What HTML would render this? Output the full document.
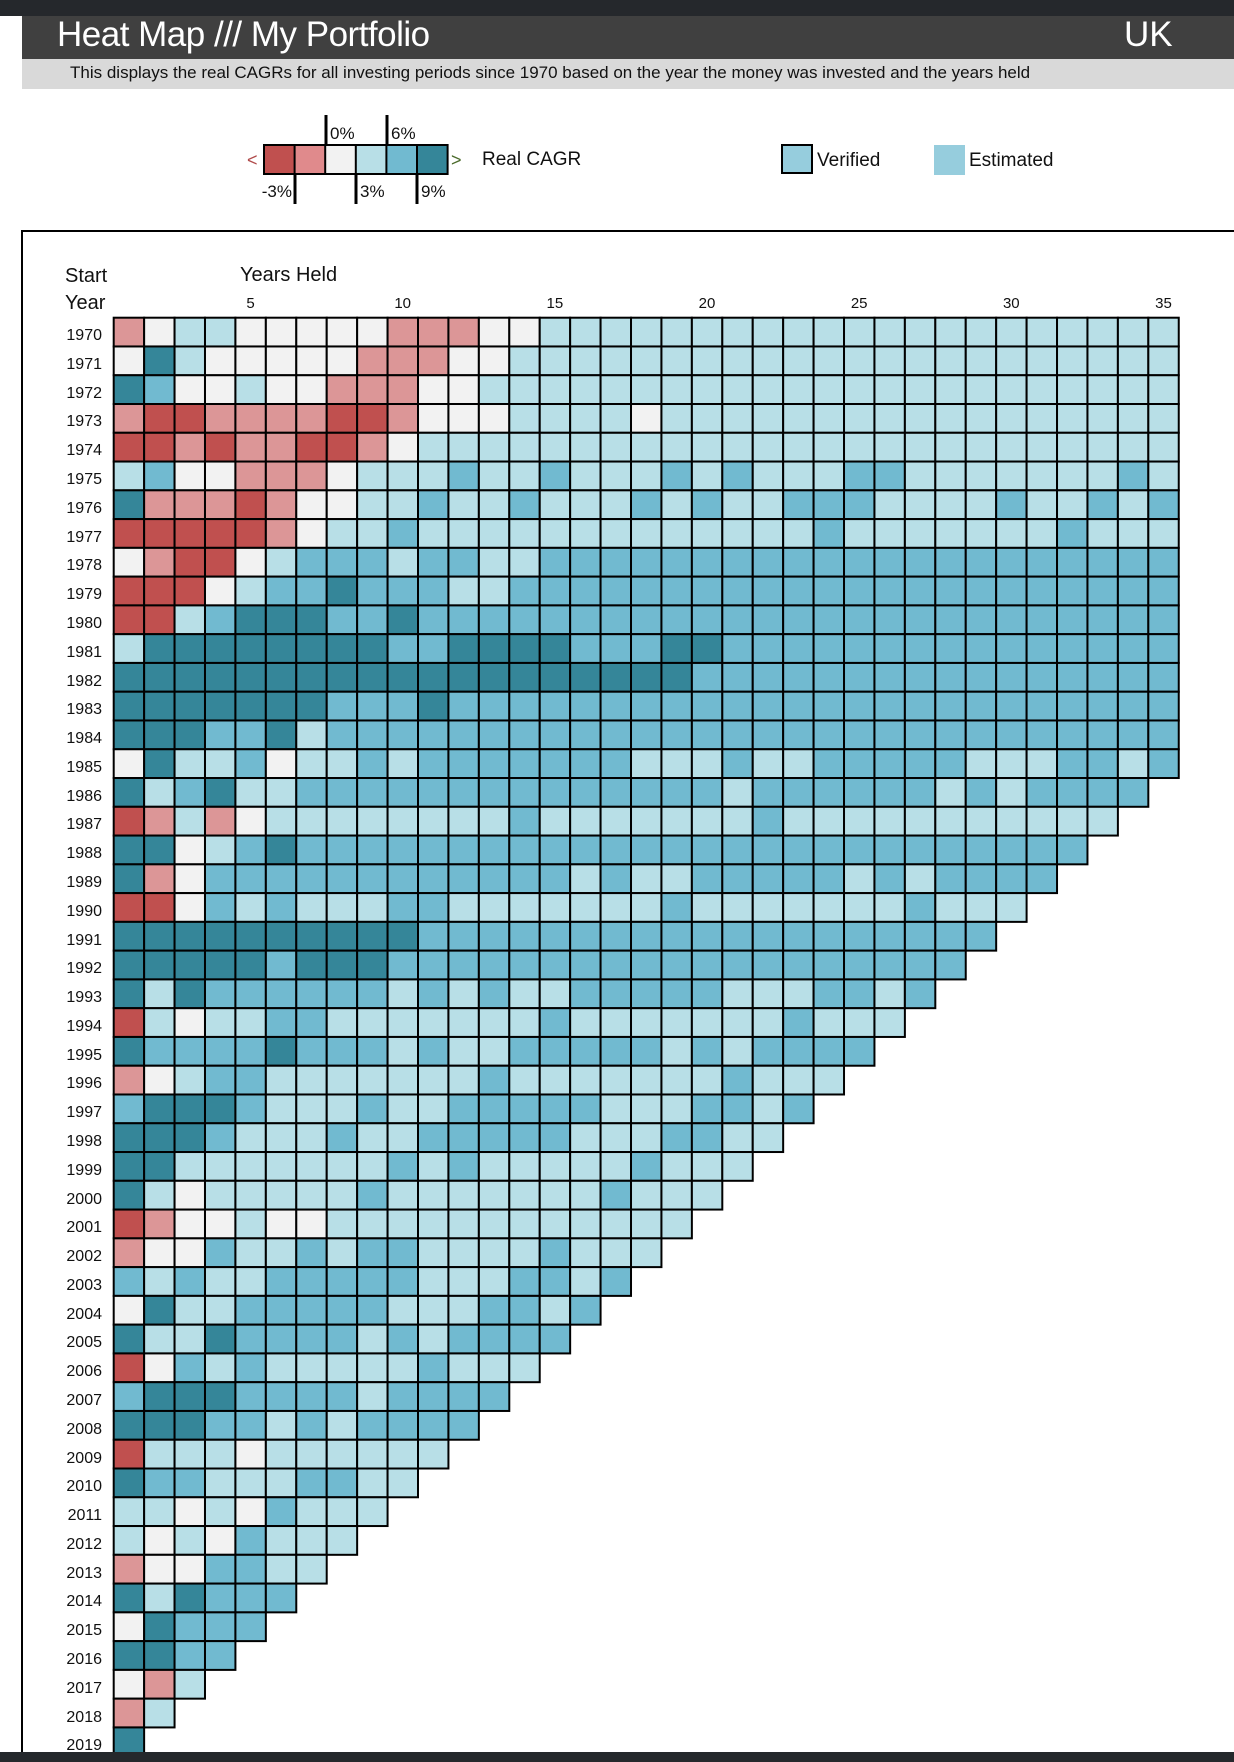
<!DOCTYPE html>
<html><head><meta charset="utf-8"><style>
html,body{margin:0;padding:0;background:#fff;}
body{width:1234px;height:1762px;position:relative;overflow:hidden;font-family:"Liberation Sans",Arial,sans-serif;}
.abs{position:absolute;}
</style></head><body>
<div class="abs" style="left:0;top:0;width:1234px;height:16px;background:#25282c"></div>
<div class="abs" style="left:22px;top:16px;width:1212px;height:43px;background:#404040"></div>
<div class="abs" style="left:57px;top:13px;font-size:35px;color:#fff;letter-spacing:-0.5px;line-height:44px">Heat Map /// My Portfolio</div>
<div class="abs" style="left:1124px;top:13px;font-size:35px;color:#fff;line-height:44px">UK</div>
<div class="abs" style="left:22px;top:59px;width:1212px;height:30px;background:#d9d9d9"></div>
<div class="abs" style="left:70px;top:63px;font-size:17px;color:#111;line-height:20px">This displays the real CAGRs for all investing periods since 1970 based on the year the money was invested and the years held</div>

<svg class="abs" style="left:0;top:0" width="1234" height="1762" xmlns="http://www.w3.org/2000/svg" font-family="Liberation Sans, Arial, sans-serif">
<rect x="264" y="145" width="30.6" height="29" fill="#c0504f"/>
<rect x="294.6" y="145" width="30.6" height="29" fill="#e08a8c"/>
<rect x="325.2" y="145" width="30.6" height="29" fill="#f2f2f2"/>
<rect x="355.8" y="145" width="30.6" height="29" fill="#b8dfe7"/>
<rect x="386.4" y="145" width="30.6" height="29" fill="#71bad0"/>
<rect x="417" y="145" width="30.6" height="29" fill="#358699"/>
<rect x="264" y="145" width="183.6" height="29" fill="none" stroke="#000" stroke-width="2"/>
<g stroke="#000" stroke-width="2">
<line x1="294.6" y1="145" x2="294.6" y2="174"/><line x1="325.2" y1="145" x2="325.2" y2="174"/><line x1="355.8" y1="145" x2="355.8" y2="174"/><line x1="386.4" y1="145" x2="386.4" y2="174"/><line x1="417" y1="145" x2="417" y2="174"/>
<line x1="326" y1="115" x2="326" y2="145" stroke-width="3"/><line x1="387" y1="115" x2="387" y2="145" stroke-width="3"/>
<line x1="295" y1="174" x2="295" y2="204" stroke-width="3"/><line x1="356" y1="174" x2="356" y2="204" stroke-width="3"/><line x1="417" y1="174" x2="417" y2="204" stroke-width="3"/>
</g>
<g font-size="17" fill="#111">
<text x="330" y="139">0%</text><text x="391" y="139">6%</text>
<text x="292" y="197" text-anchor="end">-3%</text><text x="360" y="197">3%</text><text x="421" y="197">9%</text>
<text x="482" y="165" font-size="19">Real CAGR</text>
</g>
<text x="247" y="166" font-size="18" fill="#b04a4a">&lt;</text>
<text x="451" y="166" font-size="18" fill="#4a6a2a">&gt;</text>
<rect x="782" y="145" width="30" height="28" fill="#96cddd" stroke="#000" stroke-width="2"/>
<text x="817" y="166" font-size="19" fill="#111">Verified</text>
<rect x="934" y="145" width="31" height="30" fill="#96cddd"/>
<text x="969" y="166" font-size="19" fill="#111">Estimated</text>
<polyline points="1234,231 22,231 22,1762" fill="none" stroke="#000" stroke-width="2"/>
<text x="65" y="282" font-size="20" fill="#111">Start</text>
<text x="65" y="309" font-size="20" fill="#111">Year</text>
<text x="240" y="281" font-size="20" fill="#111">Years Held</text>
<g font-size="15" fill="#111" text-anchor="middle">
<text x="250.6" y="308">5</text><text x="402.7" y="308">10</text><text x="554.9" y="308">15</text><text x="707" y="308">20</text><text x="859.2" y="308">25</text><text x="1011.3" y="308">30</text><text x="1163.5" y="308">35</text>
</g>
<g id="cells"></g>
<g font-size="16" fill="#111" text-anchor="end" transform="translate(0,3)">
<text x="102" y="337">1970</text><text x="102" y="366">1971</text><text x="102" y="395">1972</text><text x="102" y="423">1973</text><text x="102" y="452">1974</text><text x="102" y="481">1975</text><text x="102" y="510">1976</text><text x="102" y="539">1977</text><text x="102" y="567">1978</text><text x="102" y="596">1979</text>
<text x="102" y="625">1980</text><text x="102" y="654">1981</text><text x="102" y="683">1982</text><text x="102" y="711">1983</text><text x="102" y="740">1984</text><text x="102" y="769">1985</text><text x="102" y="798">1986</text><text x="102" y="826">1987</text><text x="102" y="855">1988</text><text x="102" y="884">1989</text>
<text x="102" y="913">1990</text><text x="102" y="942">1991</text><text x="102" y="970">1992</text><text x="102" y="999">1993</text><text x="102" y="1028">1994</text><text x="102" y="1057">1995</text><text x="102" y="1085">1996</text><text x="102" y="1114">1997</text><text x="102" y="1143">1998</text><text x="102" y="1172">1999</text>
<text x="102" y="1201">2000</text><text x="102" y="1229">2001</text><text x="102" y="1258">2002</text><text x="102" y="1287">2003</text><text x="102" y="1316">2004</text><text x="102" y="1344">2005</text><text x="102" y="1373">2006</text><text x="102" y="1402">2007</text><text x="102" y="1431">2008</text><text x="102" y="1460">2009</text>
<text x="102" y="1488">2010</text><text x="102" y="1517">2011</text><text x="102" y="1546">2012</text><text x="102" y="1575">2013</text><text x="102" y="1603">2014</text><text x="102" y="1632">2015</text><text x="102" y="1661">2016</text><text x="102" y="1690">2017</text><text x="102" y="1719">2018</text><text x="102" y="1747">2019</text>
</g>
</svg>
<div class="abs" style="left:0;top:1752px;width:1234px;height:10px;background:#25282c"></div>
<script>
var L=function(n,c){return c.repeat(n);};
var rows=[
"rWLLWWWWWrrrWWLLLL"+L(17,"L"),
"WDLWWWWWrrrWWLLLLL"+L(17,"L"),
"DMWWLWWrrrWWLLLLLL"+L(17,"L"),
"rRRrrrrRRrWWWLLLLW"+L(17,"L"),
"RRrRrrRRrWLLLLLLLL"+L(17,"L"),
"LMWWrrrWLLLMLLMLLL"+"MLMLLLMMLLLLLLLML",
"DrrrRrWWLLMLLMLLLM"+"LMLLMMMLLLLMLLMLM",
"RRRRRrWLLMLLLLLLLL"+"LLLLLMLLLLLLLMLLL",
"WrRRWLMMMLMMLLMMMM"+L(17,"M"),
"RRRWLMMDMMMLLMMMMM"+L(17,"M"),
"RRLMDDDMMDMMMMMMMM"+L(17,"M"),
"LDDDDDDDDMMDDDDMMM"+"DD"+L(15,"M"),
L(19,"D")+L(16,"M"),
"DDDDDDDMMMDMMMMMMM"+L(17,"M"),
"DDDMMDLMMMMMMMMMMM"+L(17,"M"),
"WDLLMWLLMLMMMMMMML"+"LLMLLMMMMMLLLMMLM",
"DLMDLLMMMMMMMMMMMM"+"MMLMMMMMMLMLMMMM",
"RrLrWLLLLLLLLMLLLL"+"LLLMLLLLLLLLLLL",
"DDWLMDMMMMMMMMMMMM"+L(14,"M"),
"DrWMMMMMMMMMMMMLML"+"LMMMMMLMLMMMM",
"RRWMLMLLLMMLLLLLLL"+"MLLLLLLLMLLL",
"DDDDDDDDDDMMMMMMMM"+L(11,"M"),
"DDDDDMDDDMMMMMMMMM"+L(10,"M"),
"DLDMMMMMMLMLMLLMMM"+"MMLLLMMLM",
"RLWLLMMLLLLLLLMLLL"+"LLLLMLLL",
"DMMMMDMMMLMLLMMMMM"+"LMLMMMM",
"rWLMMLLLLLLLMLLLLL"+"LLMLLL",
"MDDDMLLLMLLMMMMMLL"+"LMMLM",
"DDDMLLLMLLMMMMMLLL"+"MMLL",
"DDLLLLLLLMLMLLLLLM"+"LLL",
"DLWLLLLLMLLLLLLLML"+"LL",
"RrWWLWWLLLLLLLLLLL"+"L",
"rWWMLLMLMMLLLLMLLL",
"MLMLLMMMMMLLLMMLM",
"WDLLMMMMMLLLMMLM",
"DLLDMMMMLMLMMMM",
"RWMLMLLLLLMLLL",
"MDDDMMMMLMMMM",
"DDDMMLMLMMMM",
"RLLLWLLLLLL",
"DMMLLLMMLL",
"LLWLWMLLL",
"LWLWMLLL",
"rWWMMLL",
"DLDMMM",
"WDMMM",
"DDMM",
"WrL",
"rL",
"D"];
var col={R:"#c0504f",r:"#dc9697",W:"#f2f2f2",L:"#b8dfe7",M:"#71bad0",D:"#358699"};
var g=document.getElementById("cells"),s="";
var x0=113.7,cw=30.43,y0=317.7,rh=28.77;
for(var i=0;i<rows.length;i++){for(var j=0;j<rows[i].length;j++){
s+='<rect x="'+(x0+j*cw).toFixed(2)+'" y="'+(y0+i*rh).toFixed(2)+'" width="'+cw+'" height="'+rh+'" fill="'+col[rows[i][j]]+'" stroke="#000" stroke-width="2"/>';}}
g.innerHTML=s;
</script>
</body></html>
